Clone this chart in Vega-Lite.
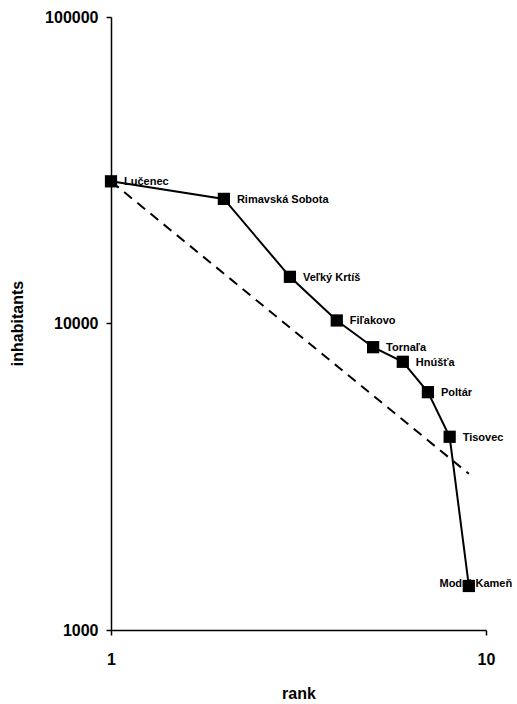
{
  "$schema": "https://vega.github.io/schema/vega-lite/v6.json",
  "width": 375,
  "height": 613,
  "autosize": {"type": "none"},
  "padding": {"left": 111, "top": 17, "right": 31, "bottom": 74},
  "background": "white",
  "config": {
    "view": {"stroke": null},
    "font": "Liberation Sans",
    "axis": {
      "grid": false,
      "domainColor": "black",
      "domainWidth": 1.5,
      "tickColor": "black",
      "tickWidth": 1.5,
      "tickSize": 5,
      "labelColor": "black",
      "labelFont": "Liberation Sans",
      "labelFontSize": 16,
      "labelFontWeight": "bold",
      "labelFlush": false,
      "titleColor": "black",
      "titleFont": "Liberation Sans",
      "titleFontSize": 16,
      "titleFontWeight": "bold"
    }
  },
  "datasets": {
    "towns": [
      {"rank": 1, "town": "Lučenec", "inhabitants": 29100},
      {"rank": 2, "town": "Rimavská Sobota", "inhabitants": 25500},
      {"rank": 3, "town": "Veľký Krtíš", "inhabitants": 14200},
      {"rank": 4, "town": "Fiľakovo", "inhabitants": 10230},
      {"rank": 5, "town": "Tornaľa", "inhabitants": 8370},
      {"rank": 6, "town": "Hnúšťa", "inhabitants": 7500},
      {"rank": 7, "town": "Poltár", "inhabitants": 5970},
      {"rank": 8, "town": "Tisovec", "inhabitants": 4270},
      {"rank": 9, "town": "Modrý Kameň", "inhabitants": 1392}
    ],
    "rankSizeRule": [
      {"rank": 1, "inhabitants": 29100},
      {"rank": 9, "inhabitants": 3233}
    ]
  },
  "encoding": {
    "x": {
      "field": "rank",
      "type": "quantitative",
      "scale": {"type": "log", "domain": [1, 10], "nice": false},
      "axis": {
        "values": [1, 10],
        "format": "d",
        "labelPadding": 16,
        "labelFlush": false,
        "title": "rank",
        "titleY": 63,
        "titleBaseline": "middle"
      }
    },
    "y": {
      "field": "inhabitants",
      "type": "quantitative",
      "scale": {"type": "log", "domain": [1000, 100000], "nice": false},
      "axis": {
        "values": [1000, 10000, 100000],
        "format": "d",
        "labelPadding": 8,
        "labelFlush": false,
        "title": "inhabitants",
        "titleX": -94,
        "titleY": 306,
        "titleBaseline": "middle"
      }
    }
  },
  "layer": [
    {
      "data": {"name": "rankSizeRule"},
      "mark": {"type": "line", "color": "black", "strokeWidth": 2, "strokeDash": [10, 7]}
    },
    {
      "data": {"name": "towns"},
      "mark": {"type": "line", "color": "black", "strokeWidth": 2}
    },
    {
      "data": {"name": "towns"},
      "transform": [{"filter": "datum.town !== 'Modrý Kameň'"}],
      "mark": {"type": "text", "align": "left", "baseline": "middle", "dx": 13, "dy": 1, "fontSize": 11, "fontWeight": "bold", "color": "black"},
      "encoding": {"text": {"field": "town"}}
    },
    {
      "data": {"name": "towns"},
      "transform": [{"filter": "datum.town === 'Modrý Kameň'"}],
      "mark": {"type": "text", "align": "center", "baseline": "middle", "dx": 7, "dy": -2, "fontSize": 11, "fontWeight": "bold", "color": "black"},
      "encoding": {"text": {"field": "town"}}
    },
    {
      "data": {"name": "towns"},
      "mark": {"type": "point", "shape": "square", "filled": true, "size": 150, "color": "black", "opacity": 1}
    }
  ]
}
